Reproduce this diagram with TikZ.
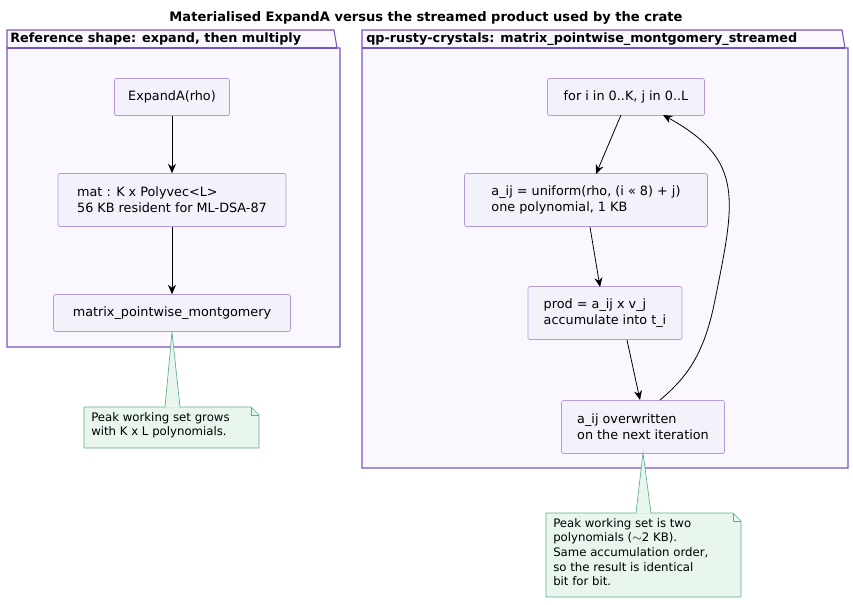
\documentclass[tikz,border=0pt]{standalone}
\usepackage{fontspec}
\setmainfont{DejaVu Sans}
\usetikzlibrary{arrows.meta}
\definecolor{nodefill}{HTML}{F3F1FA}
\definecolor{nodeline}{HTML}{B59BDE}
\definecolor{pkgfill}{HTML}{FAF7FF}
\definecolor{pkgline}{HTML}{7B55BF}
\definecolor{notefill}{HTML}{E9F6EE}
\definecolor{noteline}{HTML}{5FAF8C}
\tikzset{
  box/.style={draw=nodeline, fill=nodefill, rounded corners=1.5pt, align=left, font=\fontsize{9.6}{12}\selectfont, inner sep=0pt, anchor=center, line width=0.5pt},
  arr/.style={-{Stealth[length=7pt,width=6pt]}, line width=0.6pt},
  pkg/.style={draw=pkgline, fill=pkgfill, line width=0.8pt},
  note/.style={draw=noteline, fill=notefill, line width=0.5pt},
  notetext/.style={align=left, font=\fontsize{8.8}{11}\selectfont, anchor=north west, inner sep=0pt},
}
\begin{document}
\begin{tikzpicture}[x=0.75pt,y=-0.75pt]
\useasboundingbox (0,0) rectangle (853,604);
\node[font=\bfseries\fontsize{9.8}{12}\selectfont] (title) at (426,18) {Materialised ExpandA versus the streamed product used by the crate};
% packages
\draw[pkg] (7,48) -- (7,347) -- (340,347) -- (340,48) -- (337,48) -- (334,30) -- (7,30) -- cycle;
\draw[pkgline, line width=0.8pt] (7,48) -- (337,48);
\node[anchor=west, font=\bfseries\fontsize{9.6}{12}\selectfont, inner sep=0pt] (p1) at (10,39) {Reference shape: expand, then multiply};
\draw[pkg] (362,48) -- (362,468) -- (848,468) -- (848,48) -- (845,48) -- (842,30) -- (362,30) -- cycle;
\draw[pkgline, line width=0.8pt] (362,48) -- (845,48);
\node[anchor=west, font=\bfseries\fontsize{9.6}{12}\selectfont, inner sep=0pt] (p2) at (366,39) {qp-rusty-crystals: matrix\_pointwise\_montgomery\_streamed};
% left nodes
\node[box, minimum width=115*0.75pt, minimum height=37*0.75pt] (ea) at (172,97) {ExpandA(rho)};
\node[box, minimum width=228*0.75pt, minimum height=53*0.75pt] (mat) at (172,200) {mat : K x Polyvec<L>\\56 KB resident for ML-DSA-87};
\node[box, minimum width=237*0.75pt, minimum height=37*0.75pt] (mpm) at (172,313) {matrix\_pointwise\_montgomery};
\draw[arr] (ea) -- (mat);
\draw[arr] (mat) -- (mpm);
% right nodes
\node[box, minimum width=157*0.75pt, minimum height=37*0.75pt] (for) at (626,97) {for i in 0..K, j in 0..L};
\node[box, minimum width=243*0.75pt, minimum height=53*0.75pt] (aij) at (586,200) {a\_ij = uniform(rho, (i << 8) + j)\\one polynomial, 1 KB};
\node[box, minimum width=154*0.75pt, minimum height=53*0.75pt] (prod) at (605,313) {prod = a\_ij x v\_j\\accumulate into t\_i};
\node[box, minimum width=163*0.75pt, minimum height=53*0.75pt] (ovr) at (643,427) {a\_ij overwritten\\on the next iteration};
\draw[arr] (621,115) -- (596,174);
\draw[arr] (590,227) -- (600,287);
\draw[arr] (627,340) -- (640,400);
\draw[arr] (660,400) .. controls (690,375) and (705,350) .. (715,300) .. controls (735,200) and (745,160) .. (663,115);
% notes
\draw[note] (84,407) -- (84,448) -- (259,448) -- (259,415) -- (251,407) -- cycle;
\draw[noteline, line width=0.5pt] (251,407) -- (251,415) -- (259,415);
\fill[notefill] (165,407.5) -- (172,332) -- (180,407.5) -- cycle;
\draw[noteline, line width=0.5pt] (165,407) -- (172,332) -- (180,407);
\node[notetext] (n1) at (91,412) {Peak working set grows\\with K x L polynomials.};
\draw[note] (546,513) -- (546,597) -- (741,597) -- (741,521) -- (733,513) -- cycle;
\draw[noteline, line width=0.5pt] (733,513) -- (733,521) -- (741,521);
\fill[notefill] (636,513.5) -- (643,453) -- (651,513.5) -- cycle;
\draw[noteline, line width=0.5pt] (636,513) -- (643,453) -- (651,513);
\node[notetext] (n2) at (553,518) {Peak working set is two\\polynomials ($\sim$2 KB).\\Same accumulation order,\\so the result is identical\\bit for bit.};
\end{tikzpicture}
\end{document}
